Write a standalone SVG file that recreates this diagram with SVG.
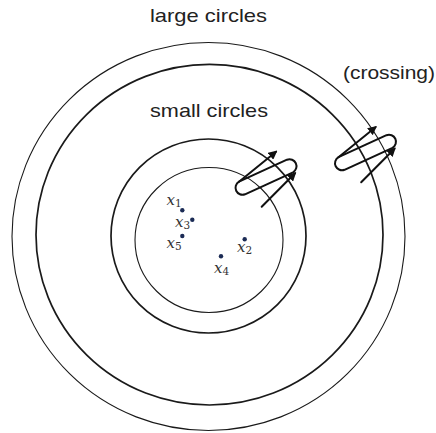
<svg xmlns="http://www.w3.org/2000/svg" width="436" height="433" viewBox="0 0 436 433">
<defs>
<style>
.circ{fill:none;stroke:#1a1a1a}
.thin{stroke-width:1.1}
.thick{stroke-width:1.7}
.lbl{font-family:"Liberation Sans","Helvetica",Arial,sans-serif;font-size:19px;fill:#222}
.math{font-family:"DejaVu Serif","Liberation Serif",serif;font-style:italic;font-size:15px;fill:#333}
.sub{font-style:normal;font-size:10.5px}
.pt{fill:#1b2b55}
.coil{fill:none;stroke:#111;stroke-width:2;stroke-linecap:round;stroke-linejoin:round}
</style>
<marker id="ah" viewBox="0 0 10 10" refX="8" refY="5" markerWidth="9" markerHeight="9" markerUnits="userSpaceOnUse" orient="auto">
<path d="M0,0 L10,5 L0,10 Z" fill="#111"/>
</marker>
</defs>
<rect width="436" height="433" fill="#fff"/>
<g id="large-circle-outer"><ellipse class="circ thin" cx="208.5" cy="236.5" rx="196.5" ry="194"/></g>
<g id="large-circle-inner"><ellipse class="circ thick" cx="209.5" cy="234.7" rx="173.5" ry="170.3"/></g>
<g id="small-circle-outer"><ellipse class="circ thick" cx="208.5" cy="236" rx="97.5" ry="97"/></g>
<g id="small-circle-inner"><ellipse class="circ thin" cx="209" cy="240" rx="74" ry="72.5"/></g>
<g id="labels">
<text class="lbl" x="208.5" y="22" text-anchor="middle" textLength="117" lengthAdjust="spacingAndGlyphs">large circles</text>
<text class="lbl" x="209" y="117" text-anchor="middle" textLength="118" lengthAdjust="spacingAndGlyphs">small circles</text>
<text class="lbl" x="343" y="79" textLength="92" lengthAdjust="spacingAndGlyphs">(crossing)</text>
</g>
<g id="points">
<circle class="pt" cx="182.3" cy="210.3" r="2.2"/>
<circle class="pt" cx="192.3" cy="219.7" r="2.2"/>
<circle class="pt" cx="182.3" cy="236" r="2.2"/>
<circle class="pt" cx="244.7" cy="239.3" r="2.2"/>
<circle class="pt" cx="221" cy="256.3" r="2.2"/>
<text class="math" x="166.5" y="205">x<tspan class="sub" dy="2">1</tspan></text>
<text class="math" x="175" y="226.5">x<tspan class="sub" dy="2">3</tspan></text>
<text class="math" x="166.5" y="248">x<tspan class="sub" dy="2">5</tspan></text>
<text class="math" x="237" y="251.5">x<tspan class="sub" dy="2">2</tspan></text>
<text class="math" x="214" y="272.5">x<tspan class="sub" dy="2">4</tspan></text>
</g>
<g id="connectors">
<g id="crossing-small">
<path class="coil" d="M261.7,206.7 L295,173.3" marker-end="url(#ah)"/>
<path class="coil" d="M239,181.7 L287,159.7 A7,7 0 0 1 293,172.3 L245,194.3 A7,7 0 0 1 239,181.7 Z"/>
<path class="coil" d="M239,181.7 L276,151.7" marker-end="url(#ah)"/>
</g>
<g id="crossing-large" transform="translate(99.5,-24.5)">
<path class="coil" d="M261.7,206.7 L295,173.3" marker-end="url(#ah)"/>
<path class="coil" d="M239,181.7 L287,159.7 A7,7 0 0 1 293,172.3 L245,194.3 A7,7 0 0 1 239,181.7 Z"/>
<path class="coil" d="M239,181.7 L276,151.7" marker-end="url(#ah)"/>
</g>
</g>
</svg>
